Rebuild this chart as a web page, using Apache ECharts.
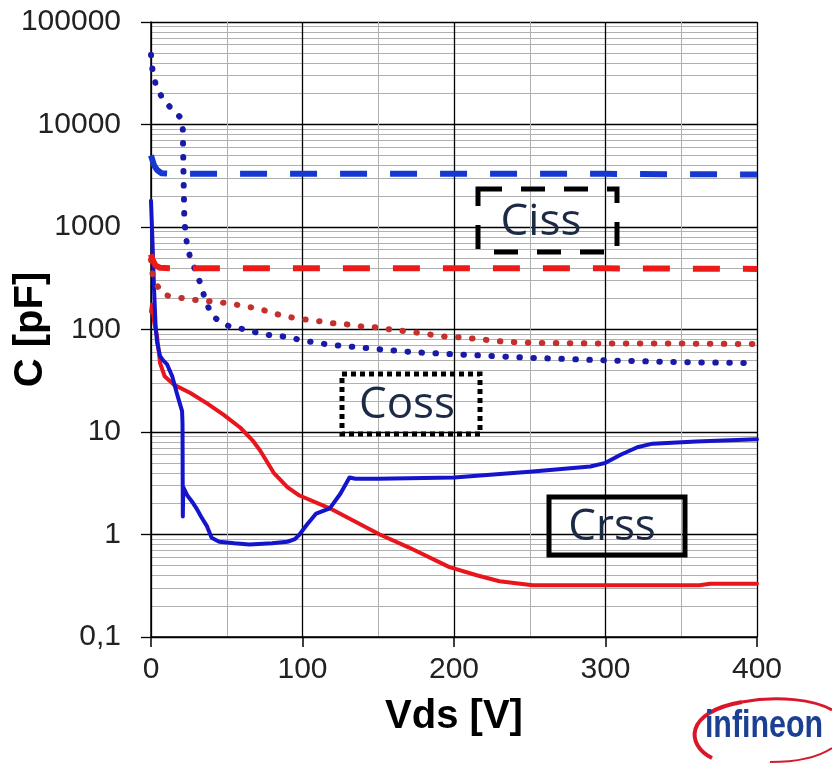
<!DOCTYPE html>
<html><head><meta charset="utf-8">
<script src="https://cdn.jsdelivr.net/npm/echarts@6/dist/echarts.min.js"></script>
<style>html,body{margin:0;padding:0;background:#fff}#c{width:832px;height:763px}</style>
</head><body><div id="c"></div>
<script>
// ---- data ----
const yTickValues = [0.1, 1, 10, 100, 1000, 10000, 100000];
const yTickLabels = ['0,1', '1', '10', '100', '1000', '10000', '100000'];
const xTickLabels = ['0', '100', '200', '300', '400'];

// Ciss (blue device) – dashed
const cissBlueV = [0, 2, 4, 7, 15, 50, 100, 200, 300, 400];
const cissBlueC = [5000, 4000, 3600, 3350, 3300, 3300, 3300, 3300, 3300, 3250];
// Ciss (red device) – dashed
const cissRedV = [0, 1, 3, 6, 15, 100, 200, 300, 400];
const cissRedC = [540, 480, 420, 400, 395, 395, 395, 395, 390];
// Coss (blue device) – dotted
const cossBlueV = [0, 1, 3, 7, 13, 20, 21, 21.5, 22, 23, 24, 26, 30, 33, 36, 40, 45, 53, 63, 72, 81, 90, 100, 118, 137, 156, 174, 193, 250, 300, 350, 400];
const cossBlueC = [48000, 34000, 25000, 18600, 14500, 11500, 9000, 3000, 1200, 800, 660, 490, 360, 270, 190, 140, 120, 105, 100, 91, 87, 85, 78, 71, 67, 63, 60, 58, 53, 50, 48, 47];
// Coss (red device) – dotted
const cossRedV = [0, 1, 3, 9, 18, 28, 37, 47, 57, 65, 74, 83, 93, 102, 112, 120, 130, 139, 149, 158, 166, 176, 185, 195, 204, 233, 252, 296, 350, 400];
const cossRedC = [480, 350, 280, 217, 205, 195, 190, 183, 174, 166, 155, 141, 131, 125, 120, 115, 112, 107, 105, 100, 97, 93, 89, 85, 84, 76, 74, 73, 73, 72];
// Crss (blue device) – solid
const crssBlueV = [0, 1, 2, 3, 4, 6, 8, 10.5, 14, 17, 19, 20.5, 20.8, 21, 21.3, 24, 27, 30, 33, 37, 40, 45, 55, 65, 80, 90, 95, 98, 103, 109, 118, 125, 131, 135, 150, 200, 250, 290, 300, 310, 321, 331, 360, 400];
const crssBlueC = [1800, 700, 250, 110, 75, 55, 50, 46, 35, 24, 19, 16, 12, 1.5, 2.9, 2.4, 2.1, 1.8, 1.5, 1.2, 0.93, 0.85, 0.82, 0.8, 0.82, 0.85, 0.9, 1.0, 1.25, 1.6, 1.8, 2.5, 3.6, 3.5, 3.5, 3.6, 4.1, 4.6, 5.0, 6.0, 7.1, 7.7, 8.1, 8.5];
// Crss (red device) – solid
const crssRedV = [0, 0.7, 2, 4, 6, 9, 15, 26, 37, 48, 59, 67, 72, 81, 90, 98, 118, 151, 170, 197, 215, 230, 252, 300, 362, 369, 400];
const crssRedC = [150, 175, 120, 85, 47, 35, 29, 24, 19, 14.7, 11, 8.3, 6.6, 4.0, 2.9, 2.4, 1.8, 1.0, 0.75, 0.48, 0.40, 0.35, 0.32, 0.32, 0.32, 0.33, 0.33];

const zip = (a, b) => a.map((v, i) => [v, b[i]]);

const chart = echarts.init(document.getElementById('c'), null, {renderer: 'canvas'});
const axisFont = 'Liberation Sans, Arial, sans-serif';
const noteFont = 'Open Sans, Noto Sans, sans-serif';

function lineSeries(name, v, c, color, width, type, cap) {
  return {
    name, type: 'line', data: zip(v, c), showSymbol: false, symbol: 'none',
    smooth: false, animation: false, z: 5,
    lineStyle: { color, width, type, cap: cap || 'butt', join: 'round' }
  };
}

chart.setOption({
  animation: false,
  backgroundColor: '#fff',
  grid: { left: 151, right: 75, top: 22, bottom: 126, containLabel: false, outerBoundsMode: 'none' },
  xAxis: {
    type: 'value', min: 0, max: 400, interval: 100,
    name: 'Vds [V]', nameLocation: 'middle', nameGap: 60, nameMoveOverlap: false,
    nameTextStyle: { fontFamily: axisFont, fontSize: 40, fontWeight: 'bold', color: '#000' },
    axisLine: { show: true, onZero: false, lineStyle: { color: '#000', width: 1.5 } },
    axisTick: { show: true, length: 10, lineStyle: { color: '#000', width: 1.5 } },
    axisLabel: { fontFamily: axisFont, fontSize: 30, color: '#222', margin: 18,
      formatter: (v) => xTickLabels[Math.round(v / 100)] },
    splitLine: { show: true, lineStyle: { color: '#000', width: 1.3 } },
    minorTick: { show: false, splitNumber: 2 },
    minorSplitLine: { show: true, lineStyle: { color: '#b0b0b0', width: 1 } }
  },
  yAxis: {
    type: 'log', logBase: 10, min: 0.1, max: 100000,
    name: 'C [pF]', nameLocation: 'middle', nameGap: 100, nameMoveOverlap: false,
    nameTextStyle: { fontFamily: axisFont, fontSize: 40, fontWeight: 'bold', color: '#000' },
    axisLine: { show: true, lineStyle: { color: '#000', width: 1.5 } },
    axisTick: { show: true, length: 10, lineStyle: { color: '#000', width: 1.3 } },
    axisLabel: { fontFamily: axisFont, fontSize: 30, color: '#222', margin: 30,
      formatter: (v) => { const i = yTickValues.findIndex(t => Math.abs(t - v) / t < 1e-6); return i >= 0 ? yTickLabels[i] : ''; } },
    splitLine: { show: true, lineStyle: { color: '#000', width: 1.3 } },
    minorTick: { show: false, splitNumber: 9 },
    minorSplitLine: { show: true, lineStyle: { color: '#b0b0b0', width: 1 } }
  },
  series: [
    lineSeries('Crss red', crssRedV, crssRedC, '#e8161c', 4, 'solid', 'round'),
    lineSeries('Crss blue', crssBlueV, crssBlueC, '#1414cc', 4, 'solid', 'round'),
    lineSeries('Coss red', cossRedV, cossRedC, '#c4302c', 6, [0.5, 13.5], 'round'),
    lineSeries('Coss blue', cossBlueV, cossBlueC, '#1a1aa8', 6, [0.5, 13.5], 'round'),
    lineSeries('Ciss red', cissRedV, cissRedC, '#ee1a1a', 6, [27, 23], 'butt'),
    lineSeries('Ciss blue', cissBlueV, cissBlueC, '#1438d0', 6, [27, 23], 'butt')
  ],
  graphic: [
    { type: 'rect', shape: { x: 478, y: 189, width: 139, height: 63 },
      style: { fill: 'none', stroke: '#000', lineWidth: 5, lineDash: [24, 19] }, z: 10 },
    { type: 'text', x: 541, y: 222, style: { text: 'Ciss', font: '44px ' + noteFont, fill: '#1c2a45', align: 'center', verticalAlign: 'middle' }, z: 10 },
    { type: 'rect', shape: { x: 342, y: 374, width: 138, height: 60 },
      style: { fill: 'none', stroke: '#000', lineWidth: 5, lineDash: [5, 4] }, z: 10 },
    { type: 'text', x: 407, y: 405, style: { text: 'Coss', font: '44px ' + noteFont, fill: '#1c2a45', align: 'center', verticalAlign: 'middle' }, z: 10 },
    { type: 'rect', shape: { x: 549, y: 497, width: 136, height: 58 },
      style: { fill: 'none', stroke: '#000', lineWidth: 5 }, z: 10 },
    { type: 'text', x: 612, y: 527, style: { text: 'Crss', font: '44px ' + noteFont, fill: '#1c2a45', align: 'center', verticalAlign: 'middle' }, z: 10 },
    // logo
    { type: 'bezierCurve', shape: { x1: 712, y1: 758, cpx1: 686, cpy1: 745, cpx2: 684, cpy2: 712, x2: 742, y2: 702 },
      style: { stroke: '#d8182a', lineWidth: 4, fill: 'none' }, z: 10 },
    { type: 'bezierCurve', shape: { x1: 742, y1: 702, cpx1: 778, cpy1: 695, cpx2: 815, cpy2: 700, x2: 832, y2: 710 },
      style: { stroke: '#d8182a', lineWidth: 3, fill: 'none' }, z: 10 },
    { type: 'bezierCurve', shape: { x1: 770, y1: 762, cpx1: 800, cpy1: 762, cpx2: 820, cpy2: 756, x2: 832, y2: 748 },
      style: { stroke: '#d8182a', lineWidth: 2, fill: 'none' }, z: 10 },
    { type: 'group', x: 764, y: 727, scaleX: 0.8, z: 11,
      children: [
        { type: 'text', x: 0, y: 0, z: 11,
          style: { text: 'infineon', font: 'bold 38px "Liberation Sans Narrow", "Liberation Sans", sans-serif', fill: '#1b3f93', align: 'center', verticalAlign: 'middle' } }
      ] }
  ]
});
</script>
</body></html>
